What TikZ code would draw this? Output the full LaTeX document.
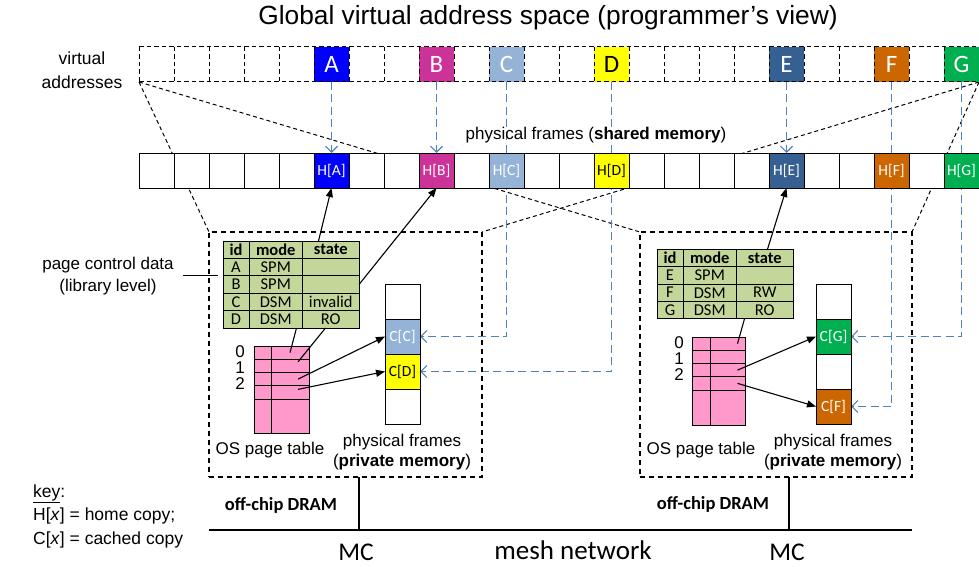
\documentclass[tikz,border=0pt]{standalone}
\usepackage{fontspec}
\setmainfont{Liberation Sans}
\newfontfamily\calibri{Carlito}
\usetikzlibrary{arrows.meta,matrix,calc}
\pgfdeclarelayer{background}
\pgfsetlayers{background,main}

\definecolor{cA}{RGB}{0,0,255}
\definecolor{cB}{RGB}{204,51,153}
\definecolor{cC}{RGB}{149,179,215}
\definecolor{cD}{RGB}{255,255,0}
\definecolor{cE}{RGB}{54,96,146}
\definecolor{cF}{RGB}{204,102,0}
\definecolor{cG}{RGB}{0,176,80}
\definecolor{tablegreen}{RGB}{196,215,155}
\definecolor{ptpink}{RGB}{255,153,204}
\definecolor{linkblue}{RGB}{79,129,189}

\tikzset{
  cellbox/.style={minimum width=35pt,minimum height=35pt,inner sep=0pt,outer sep=0pt},
  framebox/.style={cellbox,draw,line width=1pt,fill=white,
    font=\calibri\fontsize{15.5}{18}\selectfont},
  vgrid/.style={line width=1pt,dash pattern=on 4.5pt off 3pt},
  regionbox/.style={draw,line width=1.2pt,dash pattern=on 5pt off 4pt,inner sep=0pt,outer sep=0pt},
  zoomline/.style={line width=1pt,dash pattern=on 4pt off 3pt},
  bluelink/.style={linkblue,line width=1.2pt,dash pattern=on 8pt off 4.5pt,
    -{Straight Barb[length=6pt,width=12pt,line width=1.2pt]}},
  blkarrow/.style={line width=1.1pt,-{Triangle[length=9pt,width=7pt]}},
  blkline/.style={line width=1.1pt},
  lbl/.style={font=\fontsize{17}{20}\selectfont,inner sep=0pt},
  pagectl/.style={matrix of nodes,nodes in empty cells,column sep=-1pt,row sep=-1pt,
    inner sep=0pt,
    nodes={draw,line width=1pt,fill=tablegreen,minimum height=17.4pt,inner sep=0pt,
      outer sep=0pt,anchor=center,font=\calibri\fontsize{16.5}{18}\selectfont},
    column 1/.style={nodes={minimum width=26pt}},
    column 2/.style={nodes={minimum width=53.5pt}},
    column 3/.style={nodes={minimum width=56.5pt}},
    row 1/.style={nodes={font=\calibri\bfseries\fontsize{16.5}{18}\selectfont}}},
  ostable/.style={matrix of nodes,nodes in empty cells,column sep=-1pt,row sep=-1pt,
    inner sep=0pt,
    nodes={draw,line width=1pt,fill=ptpink,minimum height=13.25pt,inner sep=0pt,
      outer sep=0pt,anchor=center}},
}

\begin{document}
\begin{tikzpicture}[x=1pt,y=-1pt]
\useasboundingbox (0,0) rectangle (979,567);

% title
\node[font=\fontsize{26.3}{30}\selectfont,inner sep=0pt] (title) at (548,18)
  {Global virtual address space (programmer’s view)};

% virtual address row
\foreach \i in {0,...,23}
  \node[cellbox] (v\i) at ({156.5+35*\i},64.5) {};
\foreach \i/\c/\l/\t in {5/cA/A/white,8/cB/B/white,10/cC/C/white,13/cD/D/black,
                         18/cE/E/white,21/cF/F/white,23/cG/G/white}{
  \fill[\c] (v\i.south west) rectangle (v\i.north east);
  \node[text=\t,font=\calibri\fontsize{25}{28}\selectfont,inner sep=0pt] (name\l) at (v\i) {\l};
}
\draw[vgrid] (v0.north west) -- (v23.north east);
\draw[vgrid] (v0.south west) -- (v23.south east);
\foreach \i in {0,...,23}
  \draw[vgrid] (v\i.north west) -- (v\i.south west);
\draw[vgrid] (v23.north east) -- (v23.south east);

\node[lbl,align=center,font=\fontsize{17.5}{24}\selectfont] (vlabel) at (82,70)
  {virtual\\addresses};

% shared physical frames row
\node[lbl] (sharedlbl) at (596,135) {physical frames (\textbf{shared memory})};
\foreach \i in {0,...,23}
  \node[framebox] (p\i) at ({156.5+35*\i},170.5) {};
\foreach \i/\c/\l/\t in {5/cA/A/white,8/cB/B/white,10/cC/C/white,13/cD/D/black,
                         18/cE/E/white,21/cF/F/white,23/cG/G/white}
  \node[framebox,fill=\c,text=\t] (h\l) at (p\i) {H[\l]};

% node regions
\node[regionbox,minimum width=273pt,minimum height=245pt] (boxL) at (345.5,354.5) {};
\node[regionbox,minimum width=272pt,minimum height=245pt] (boxR) at (776,354.5) {};

% page control tables
\matrix (tl) [pagectl] at (291,284.5) {
  id & mode & state \\
  A & SPM & \\
  B & SPM & \\
  C & DSM & invalid \\
  D & DSM & RO \\
};
\matrix (tr) [pagectl] at (725,284) {
  id & mode & state \\
  E & SPM & \\
  F & DSM & RW \\
  G & DSM & RO \\
};

\node[lbl,align=center,font=\fontsize{17}{22}\selectfont] (pcdlbl) at (108,276)
  {page control data\\(library level)};
\draw[blkline] ([xshift=-40pt]tl-2-1.south west) -- ([xshift=-5pt]tl-2-1.south west);

% OS page tables
\matrix (pl) [ostable,
  column 1/.style={nodes={minimum width=17pt}},
  column 2/.style={nodes={minimum width=38pt}},
  row 5/.style={nodes={minimum height=34pt}}] at (281.5,389.5) {
  & \\ & \\ & \\ & \\ & \\
};
\matrix (pr) [ostable,
  column 1/.style={nodes={minimum width=18pt}},
  column 2/.style={nodes={minimum width=35pt}},
  row 5/.style={nodes={minimum height=35pt}}] at (718.5,381) {
  & \\ & \\ & \\ & \\ & \\
};
\foreach \n/\y in {0/352,1/368,2/384}
  \node[lbl] (rowL\n) at (240,\y) {\n};
\foreach \n/\y in {0/343,1/359,2/375}
  \node[lbl] (rowR\n) at (679,\y) {\n};

% private physical frames
\node[framebox] (fl0) at (402.5,301.5) {};
\node[framebox,fill=cC,text=white] (ccC) at (402.5,336.5) {C[C]};
\node[framebox,fill=cD,text=black] (ccD) at (402.5,371.5) {C[D]};
\node[framebox] (fl3) at (402.5,406.5) {};
\node[framebox] (fr0) at (833.5,301.5) {};
\node[framebox,fill=cG,text=white] (ccG) at (833.5,336.5) {C[G]};
\node[framebox] (fr2) at (833.5,371.5) {};
\node[framebox,fill=cF,text=white] (ccF) at (833.5,406.5) {C[F]};

\node[lbl] (ospL) at (270,450) {OS page table};
\node[lbl] (ospR) at (701,450) {OS page table};
\node[lbl,align=center,font=\fontsize{17}{20}\selectfont] (privL) at (402,452)
  {physical frames\\(\textbf{private memory})};
\node[lbl,align=center,font=\fontsize{17}{20}\selectfont] (privR) at (833,452)
  {physical frames\\(\textbf{private memory})};

% black pointers
\draw[blkarrow] ([xshift=16pt]tl-1-3.north west) -- (hA.south);
\draw[blkarrow] (tl-3-3.east) -- (hB.south);
\draw[blkline] ([xshift=-6pt]tl-5-2.south east) -- (pl-1-2.center);
\draw[blkline] ([xshift=23pt]tl-5-3.south west) -- ([xshift=8pt,yshift=4pt]pl-2-2.center);
\draw[blkarrow] ([xshift=8pt]pl-3-2.center) -- (ccC.west);
\draw[blkarrow] ([xshift=8pt,yshift=3pt]pl-4-2.center) -- (ccD.west);

\draw[blkarrow] ([xshift=31pt]tr-1-3.north west) -- (hE.south);
\draw[blkline] ([xshift=8pt]tr-4-3.south west) -- ([xshift=10pt]pr-1-2.center);
\draw[blkarrow] ([xshift=10pt]pr-3-2.center) -- (ccG.west);
\draw[blkarrow] ([xshift=10pt]pr-4-2.center) -- (ccF.west);

% lines that pass behind the frame rows
\begin{pgfonlayer}{background}
  \draw[zoomline] (v0.south west) -- (boxL.north west);
  \draw[zoomline] (v0.south west) -- (boxR.north west);
  \draw[zoomline] (v23.south east) -- (boxL.north east);
  \draw[zoomline] (v23.south east) -- (boxR.north east);
  \draw[bluelink] (v5.south) -- (hA.north);
  \draw[bluelink] (v8.south) -- (hB.north);
  \draw[bluelink] (v18.south) -- (hE.north);
  \draw[bluelink] (v10.south) |- (ccC.east);
  \draw[bluelink] (v13.south) |- (ccD.east);
  \draw[bluelink] (v21.south) |- (ccF.east);
  \draw[bluelink] (v23.south) |- (ccG.east);
\end{pgfonlayer}

% memory controllers and network
\coordinate (busL) at (359,530);
\coordinate (busR) at (789,530);
\draw[line width=2.5pt] (boxL.south -| busL) -- (busL);
\draw[line width=2.5pt] (boxR.south -| busR) -- (busR);
\draw[line width=1.3pt] (boxL.south west |- busL) -- (boxR.south east |- busL);
\node[font=\calibri\bfseries\fontsize{18.5}{22}\selectfont,inner sep=0pt] (dramL) at (281,505) {off-chip DRAM};
\node[font=\calibri\bfseries\fontsize{18.5}{22}\selectfont,inner sep=0pt] (dramR) at (713,504) {off-chip DRAM};
\node[font=\calibri\fontsize{25.5}{28}\selectfont,inner sep=0pt] (mcL) at (356,552) {MC};
\node[font=\calibri\fontsize{25.5}{28}\selectfont,inner sep=0pt] (mcR) at (787,552) {MC};
\node[font=\calibri\fontsize{27}{30}\selectfont,inner sep=0pt] (mesh) at (573,550) {mesh network};

% key
\node[lbl,align=left,anchor=west,font=\fontsize{17.5}{23.5}\selectfont] (keytext) at (33,516)
  {\underline{key}:\\H[\textit{x}] = home copy;\\C[\textit{x}] = cached copy};
\end{tikzpicture}
\end{document}
